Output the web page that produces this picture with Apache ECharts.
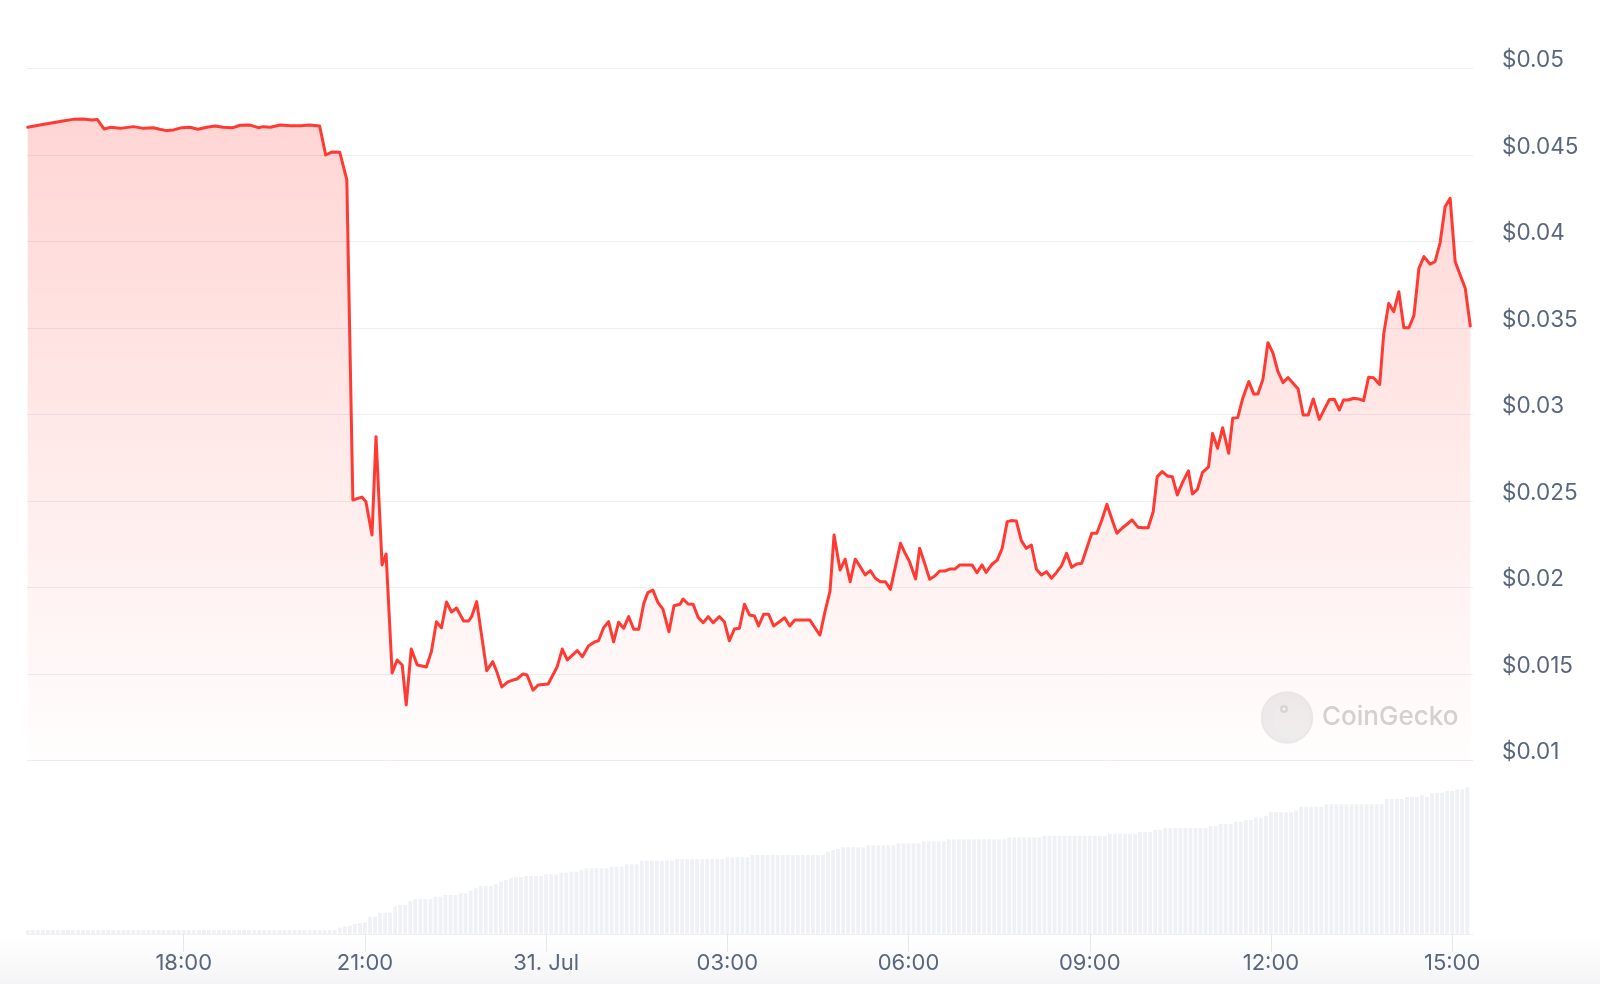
<!DOCTYPE html>
<html><head><meta charset="utf-8">
<script src="https://cdn.jsdelivr.net/npm/echarts@6/dist/echarts.min.js"></script>
<style>html,body{margin:0;padding:0;background:#fff}#c{width:1600px;height:984px}</style>
</head><body><div id="c"></div><script>
// Time base: minutes since 00:00 on 30 Jul. Data starts 15:25.
const START_MIN = 925;
const VOLUME_STEP_MIN = 5;

// price samples: minutes after start, USD price
const priceMinutes = [
0,12,25,35,45,55,64,69,76,82,92,105,115,125,131,138,145,153,161,169,178,186,194,204,211,221,229,234,241,251,261,271,280,290,296,302,310,317,
323,332,336,342,346,352,356,362,367,372,376,381,387,396,401,406,411,416,421,426,433,438,441,446,456,462,466,471,477,482,486,492,496,502,507,517,
526,531,536,546,551,557,563,567,572,577,582,587,592,597,602,607,612,616,621,626,631,637,642,648,651,656,661,666,671,676,681,687,692,697,702,707,
712,717,722,726,731,736,741,746,752,757,762,767,772,777,782,787,792,797,801,807,812,817,822,827,832,837,842,847,852,857,867,872,876,882,886,891,
896,901,906,911,916,921,926,931,938,943,948,952,958,963,968,973,977,982,987,992,997,1002,1007,1012,1017,1022,1027,1032,1037,1042,1047,1052,1057,
1062,1067,1072,1077,1082,1087,1092,1097,1103,1108,1113,1118,1122,1127,1132,1137,1142,1147,1153,1157,1162,1167,1173,1177,1182,1187,1193,1197,1202,
1207,1213,1218,1222,1227,1232,1237,1242,1247,1252,1257,1262,1267,1272,1277,1283,1288,1293,1298,1303,1307,1312,1317,1322,1327,1332,1337,1343,1347,
1352,1357,1362,1367,1372,1377,1382,1387,1393,1398,1403,1408,1413,1418,1423,1428,1433
];
const priceValues = [
0.04659,0.04672,0.04686,0.04696,0.04705,0.04707,0.04701,0.04705,0.04649,0.04659,0.04653,0.04663,0.04653,0.04657,0.04648,0.04640,0.04644,0.04657,0.04659,0.04648,0.04659,0.04667,0.04659,0.04657,0.04671,0.04672,0.04657,0.04663,0.04659,0.04672,0.04668,0.04668,0.04672,0.04667,0.04499,0.04516,0.04515,0.04355,
0.02506,0.02523,0.02496,0.02304,0.02872,0.02131,0.02194,0.01507,0.01582,0.01553,0.01322,0.01645,0.01553,0.01541,0.01630,0.01803,0.01767,0.01917,0.01859,0.01882,0.01807,0.01807,0.01832,0.01919,0.01520,0.01572,0.01514,0.01426,0.01455,0.01466,0.01472,0.01501,0.01495,0.01408,0.01437,0.01443,
0.01543,0.01645,0.01582,0.01636,0.01601,0.01663,0.01686,0.01693,0.01767,0.01803,0.01687,0.01800,0.01765,0.01832,0.01759,0.01759,0.01909,0.01971,0.01986,0.01915,0.01876,0.01745,0.01895,0.01904,0.01934,0.01905,0.01904,0.01828,0.01797,0.01832,0.01797,0.01832,0.01803,0.01693,0.01761,0.01765,
0.01904,0.01842,0.01836,0.01778,0.01846,0.01846,0.01778,0.01800,0.01826,0.01778,0.01813,0.01813,0.01813,0.01813,0.01768,0.01726,0.01861,0.01980,0.02304,0.02102,0.02164,0.02034,0.02164,0.02121,0.02073,0.02098,0.02054,0.02034,0.02034,0.01990,0.02256,0.02194,0.02150,0.02050,0.02227,0.02140,
0.02048,0.02067,0.02096,0.02096,0.02107,0.02107,0.02131,0.02131,0.02131,0.02086,0.02131,0.02088,0.02135,0.02159,0.02227,0.02381,0.02387,0.02385,0.02271,0.02227,0.02246,0.02106,0.02073,0.02092,0.02054,0.02088,0.02127,0.02198,0.02117,0.02136,0.02140,0.02227,0.02314,
0.02314,0.02391,0.02481,0.02395,0.02314,0.02343,0.02366,0.02391,0.02348,0.02346,0.02346,0.02438,0.02641,0.02670,0.02645,0.02641,0.02535,0.02606,0.02674,0.02541,0.02568,0.02666,0.02698,0.02891,0.02805,0.02924,0.02776,0.02978,0.02982,
0.03094,0.03190,0.03118,0.03118,0.03203,0.03415,0.03354,0.03247,0.03184,0.03213,0.03180,0.03147,0.02997,0.02997,0.03090,0.02972,0.03030,0.03086,0.03088,0.03026,0.03084,0.03084,0.03094,0.03090,0.03080,0.03215,0.03213,0.03174,0.03465,
0.03642,0.03594,0.03709,0.03501,0.03501,0.03571,0.03845,0.03912,0.03869,0.03883,0.03992,0.04200,0.04249,0.03883,0.03806,0.03729,0.03511
];

// volume bars, one per 5 minutes from start (relative units)
const volumeValues = [
4,4,4,4,4,4,4,4,4,4,
4,4,4,4,4,4,4,4,4,4,
4,4,4,4,4,4,4,4,4,4,
4,4,4,4,4,4,4,4,4,4,
4,4,4,4,4,4,4,4,4,4,
4,4,4,4,4,4,4,4,4,4,
4,4,6.3,7.5,8.3,10,11,11.7,17.3,17.3,
21.3,21.3,21.3,27.3,29,29,33,35,35,35,
35,37.3,37.3,39,39,39,40.7,40.7,43.3,45.7,
48,48,48,50,52.3,54,55.7,56.7,56.7,58,
58,58,58,59.7,59.7,59.7,61.3,61.3,62.3,62.3,
64,65.7,65.7,65.7,65.7,65.7,67.3,67.3,67.3,69.7,
69.7,69.7,73.3,73.3,73.3,73.3,73.3,73.3,73.3,75,
75,75,75,75,75,75,75,75,75,76.7,
76.7,76.7,76.7,76.7,79,79,79,79,79,79,
79,79,79,79,79,79,79,79,79,82.3,
84,85,86.7,86.7,86.7,86.7,86.7,88.7,88.7,88.7,
88.7,88.7,88.7,90.7,90.7,90.7,90.7,90.7,92.7,92.7,
92.7,92.7,92.7,94.7,94.7,94.7,94.7,94.7,94.7,94.7,
94.7,94.7,94.7,94.7,94.7,96.7,96.7,96.7,96.7,96.7,
96.7,96.7,98.3,98.3,98.3,98.3,98.3,98.3,98.3,98.3,
98.3,98.3,98.3,98.3,98.3,100.3,100.3,100.3,100.3,100.3,
100.3,102,102,102,104,104,106,106,106,106,
106,106,106,106,106,108,108,110,110,110,
112.3,112.3,114,114,116.3,116.3,118,121.7,121.7,121.7,
121.7,121.7,123.3,127.3,127.3,127.3,127.3,127.3,129.7,129.7,
129.7,129.7,129.7,129.7,129.7,129.7,129.7,129.7,129.7,129.7,
135,135,135,135,137,137,137,139,137,140.7,
141.3,141.3,143,143,144.7,144.7,146.7
];

const xTickMinutes = [1080,1260,1440,1620,1800,1980,2160,2340];
const xTickLabels = ['18:00','21:00','31. Jul','03:00','06:00','09:00','12:00','15:00'];
const yMin = 0.01, yMax = 0.05, yStep = 0.005;

const X_MIN = 924.3, X_MAX = 2360.7;
const FONT = 'Inter, "Noto Sans", sans-serif';
const LABEL_COLOR = '#58667e';
const RED = '#ff3a33';

const chart = echarts.init(document.getElementById('c'), null, {renderer: 'canvas'});
const priceData = priceMinutes.map((m, i) => [START_MIN + m, priceValues[i]]);
const volumeData = volumeValues.map((v, i) => [START_MIN + i * VOLUME_STEP_MIN, v]);

chart.setOption({
  animation: false,
  backgroundColor: '#ffffff',
  textStyle: {fontFamily: FONT},
  grid: [
    {left: 27, right: 127, top: 68.3, height: 692.4},
    {left: 27, right: 127, top: 760, bottom: 50}
  ],
  xAxis: [
    {gridIndex: 0, type: 'value', min: X_MIN, max: X_MAX, show: false, splitLine: {show: false}},
    {gridIndex: 1, type: 'value', min: X_MIN, max: X_MAX,
      axisLine: {show: true, lineStyle: {color: '#eef0f3', width: 1}},
      axisTick: {show: true, customValues: xTickMinutes, length: 18, lineStyle: {color: '#e5e7eb', width: 1}},
      axisLabel: {customValues: xTickMinutes, color: LABEL_COLOR, fontSize: 22, fontFamily: FONT, margin: 18,
        formatter: v => { const k = xTickMinutes.indexOf(Math.round(v)); return k >= 0 ? xTickLabels[k] : ''; }},
      splitLine: {show: false}}
  ],
  yAxis: [
    {gridIndex: 0, type: 'value', position: 'right', min: yMin, max: yMax, interval: yStep,
      axisLine: {show: false}, axisTick: {show: false},
      splitLine: {show: true, lineStyle: {color: '#edeef2', width: 1}},
      axisLabel: {color: LABEL_COLOR, fontSize: 22.5, fontFamily: FONT, margin: 29, align: 'left', verticalAlign: 'bottom',
        lineHeight: 16,
        showMinLabel: true, showMaxLabel: true,
        formatter: v => '$' + (+v.toFixed(3))}},
    {gridIndex: 1, type: 'value', min: 0, max: 174, show: false, splitLine: {show: false}}
  ],
  graphic: [
    {type: 'rect', z: -1, silent: true, shape: {x: 0, y: 936, width: 1600, height: 48},
      style: {fill: new echarts.graphic.LinearGradient(0, 0, 0, 1, [
        {offset: 0, color: 'rgba(246,246,248,0)'}, {offset: 1, color: 'rgba(244,244,246,1)'}])}},
    {type: 'group', silent: true, z: 10, children: [
      {type: 'circle', shape: {cx: 1287, cy: 717.5, r: 25.5}, style: {fill: 'rgba(215,215,217,0.45)', stroke: 'rgba(225,225,227,0.6)', lineWidth: 1.5}},
      {type: 'circle', shape: {cx: 1291, cy: 721, r: 18}, style: {fill: 'rgba(240,240,241,0.55)'}},
      {type: 'circle', shape: {cx: 1284, cy: 709, r: 4}, style: {fill: 'rgba(205,205,207,0.7)'}},
      {type: 'circle', shape: {cx: 1284, cy: 709, r: 1.6}, style: {fill: 'rgba(250,250,250,0.9)'}},
      {type: 'text', x: 1322, y: 717.5, style: {text: 'CoinGecko', fill: 'rgba(196,196,198,0.75)', fontSize: 26, fontWeight: 500,
        fontFamily: FONT, verticalAlign: 'middle', align: 'left'}}
    ]}
  ],
  series: [
    {type: 'bar', xAxisIndex: 1, yAxisIndex: 1, data: volumeData, barWidth: 3.8,
      itemStyle: {color: '#eff1f5'}, silent: true},
    {type: 'line', xAxisIndex: 0, yAxisIndex: 0, data: priceData, showSymbol: false, smooth: false,
      lineStyle: {color: RED, width: 3, join: 'round', cap: 'round'},
      areaStyle: {origin: 'start', color: new echarts.graphic.LinearGradient(0, 0, 0, 1, [
        {offset: 0, color: 'rgba(255,58,51,0.30)'},
        {offset: 1, color: 'rgba(255,58,51,0.01)'}])},
      z: 3, silent: true}
  ]
});
</script></body></html>
